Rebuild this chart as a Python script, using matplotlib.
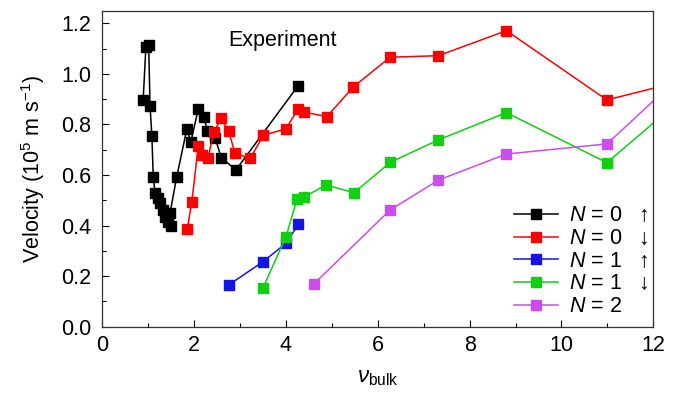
import numpy as np
import matplotlib
matplotlib.use('Agg')
import matplotlib.pyplot as plt
from matplotlib.ticker import MultipleLocator

plt.rcParams['font.family'] = ['Liberation Sans', 'DejaVu Sans']
plt.rcParams['mathtext.fontset'] = 'custom'
plt.rcParams['mathtext.rm'] = 'Liberation Sans'
plt.rcParams['mathtext.it'] = 'Liberation Sans:italic'
plt.rcParams['mathtext.bf'] = 'Liberation Sans:bold'

# N = 0, filling up (black)
x_n0_up = [0.89, 0.95, 1.01, 1.04, 1.08, 1.11, 1.15, 1.22, 1.26, 1.33, 1.37, 1.44, 1.49,
           1.475, 1.62, 1.84, 1.93, 2.09, 2.21, 2.29, 2.46, 2.59, 2.91, 4.26]
v_n0_up = [0.897, 1.108, 1.114, 0.873, 0.754, 0.591, 0.528, 0.508, 0.488, 0.462, 0.435, 0.415, 0.398,
           0.449, 0.592, 0.781, 0.732, 0.861, 0.831, 0.774, 0.745, 0.669, 0.620, 0.952]

# N = 0, draining (red)
x_n0_dn = [1.85, 1.95, 2.09, 2.17, 2.30, 2.43, 2.59, 2.75, 2.89, 3.22, 3.51, 4.00, 4.26, 4.39,
           4.89, 5.47, 6.27, 7.32, 8.80, 10.99, 12.5]
v_n0_dn = [0.385, 0.494, 0.715, 0.679, 0.666, 0.771, 0.824, 0.775, 0.686, 0.666, 0.757, 0.783,
           0.860, 0.849, 0.831, 0.949, 1.066, 1.072, 1.171, 0.897, 0.966]

# N = 1, filling up (blue)
x_n1_up = [2.75, 3.50, 4.00, 4.27]
v_n1_up = [0.165, 0.257, 0.330, 0.405]

# N = 1, draining (green)
x_n1_dn = [3.50, 4.00, 4.24, 4.39, 4.87, 5.48, 6.27, 7.32, 8.80, 10.99, 12.5]
v_n1_dn = [0.154, 0.356, 0.504, 0.512, 0.561, 0.530, 0.650, 0.739, 0.847, 0.649, 0.883]

# N = 2 (purple)
x_n2 = [4.60, 6.27, 7.32, 8.80, 10.99, 12.5]
v_n2 = [0.168, 0.462, 0.580, 0.683, 0.723, 0.977]

series = [
    (x_n0_up, v_n0_up, '#000000', '$N$ = 0   \u2191'),
    (x_n0_dn, v_n0_dn, '#ff0000', '$N$ = 0   \u2193'),
    (x_n1_up, v_n1_up, '#1414e6', '$N$ = 1   \u2191'),
    (x_n1_dn, v_n1_dn, '#10d010', '$N$ = 1   \u2193'),
    (x_n2, v_n2, '#cc4cf0', '$N$ = 2'),
]

fig = plt.figure(figsize=(6.77, 3.93), dpi=100)
ax = fig.add_axes([0.1511, 0.1687, 0.8139, 0.8041])

for xs, vs, c, lab in series:
    ax.plot(xs, vs, '-s', color=c, lw=1.1, ms=7.3, label=lab)

ax.set_xlim(0, 12)
ax.set_ylim(0, 1.25)
ax.xaxis.set_major_locator(MultipleLocator(2))
ax.xaxis.set_minor_locator(MultipleLocator(1))
ax.yaxis.set_major_locator(MultipleLocator(0.2))
ax.yaxis.set_minor_locator(MultipleLocator(0.1))
ax.yaxis.set_major_formatter(matplotlib.ticker.FormatStrFormatter('%.1f'))
ax.tick_params(which='both', direction='in', top=False, right=False, labelsize=15.5)
ax.tick_params(which='major', length=5, width=0.8)
ax.tick_params(which='minor', length=3, width=0.8)
ax.tick_params(axis='y', pad=8)
ax.tick_params(axis='x', pad=6)
for sp in ax.spines.values():
    sp.set_linewidth(0.9)
    sp.set_color('#333333')

ax.set_xlabel(r'$\nu_{\mathrm{bulk}}$', fontsize=16, labelpad=8)
ax.set_ylabel('Velocity (10$^5$ m s$^{-1}$)', fontsize=15.5, labelpad=10)

ax.text(2.74, 1.134, 'Experiment', fontsize=15.5, ha='left', va='center')

ax.legend(loc='lower left', bbox_to_anchor=(0.748, 0.03), frameon=False, fontsize=15.5,
          handlelength=2.0, handletextpad=0.55, labelspacing=0.08,
          borderpad=0, borderaxespad=0)

fig.savefig('out.png', dpi=100)
